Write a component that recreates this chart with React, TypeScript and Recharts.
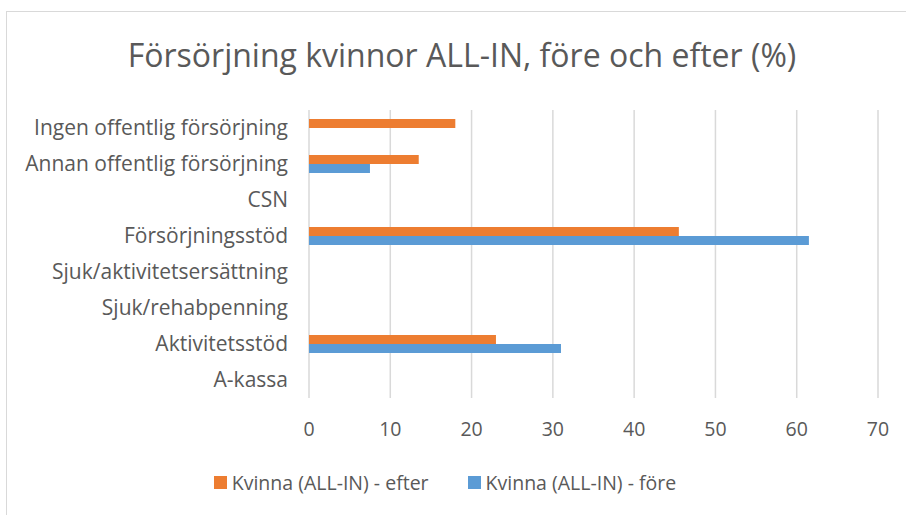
import React from 'react';
import { BarChart, Bar, XAxis, YAxis, CartesianGrid, Legend } from 'recharts';

const categories = [
  'Ingen offentlig försörjning',
  'Annan offentlig försörjning',
  'CSN',
  'Försörjningsstöd',
  'Sjuk/aktivitetsersättning',
  'Sjuk/rehabpenning',
  'Aktivitetsstöd',
  'A-kassa',
];
const efterValues = [18, 13.5, 0, 45.5, 0, 0, 23, 0];
const foreValues = [0, 7.5, 0, 61.5, 0, 0, 31, 0];
const xTicks = [0, 10, 20, 30, 40, 50, 60, 70];
const seriesNames = ['Kvinna (ALL-IN) - efter', 'Kvinna (ALL-IN) - före'];
const seriesColors = ['#ED7D31', '#5B9BD5'];
const title = 'Försörjning kvinnor ALL-IN, före och efter (%)';

const data = categories.map((c, i) => ({ name: c, efter: efterValues[i], fore: foreValues[i] }));

const FONT = '"Open Sans", "Noto Sans", sans-serif';
const TEXT = '#595959';

const LegendContent = () => (
  <div style={{ display: 'flex', justifyContent: 'center', alignItems: 'center', fontFamily: FONT, fontSize: 19.5, color: TEXT, paddingRight: 16 }}>
    {seriesNames.map((n, i) => (
      <div key={n} style={{ display: 'flex', alignItems: 'center', marginRight: i === 0 ? 39 : 0 }}>
        <div style={{ width: 13, height: 13, background: seriesColors[i], marginRight: 5 }} />
        <span>{n}</span>
      </div>
    ))}
  </div>
);

export default function App() {
  return (
    <div style={{ position: 'absolute', left: 0, top: 0, width: 906, height: 515, background: '#fff', overflow: 'hidden' }}>
      <div style={{ position: 'absolute', left: 6, top: 11, width: 1000, height: 1000, border: '1px solid #D9D9D9' }} />
      <div style={{ position: 'absolute', left: 0, top: 35, width: 924, textAlign: 'center', fontFamily: FONT, fontSize: 32, color: TEXT, lineHeight: '40px', whiteSpace: 'nowrap' }}>
        {title}
      </div>
      <div style={{ position: 'absolute', left: 0, top: 0 }}>
        <BarChart
          width={906}
          height={515}
          data={data}
          layout="vertical"
          margin={{ top: 110, right: 28, left: 0, bottom: 87 }}
          barSize={9}
          barGap={0}
        >
          <CartesianGrid horizontal={false} stroke="#D9D9D9" strokeWidth={1.5} />
          <XAxis
            type="number"
            domain={[0, 70]}
            ticks={xTicks}
            axisLine={false}
            tickLine={false}
            height={30}
            tickMargin={18}
            tick={{ fill: TEXT, fontSize: 19.5, fontFamily: FONT }}
            interval={0}
          />
          <YAxis
            type="category"
            dataKey="name"
            width={309}
            axisLine={false}
            tickLine={false}
            tickMargin={15}
            interval={0}
            tick={{ fill: TEXT, fontSize: 21, fontFamily: FONT }}
          />
          <Bar dataKey="efter" name={seriesNames[0]} fill={seriesColors[0]} isAnimationActive={false} />
          <Bar dataKey="fore" name={seriesNames[1]} fill={seriesColors[1]} isAnimationActive={false} />
          <Legend
            layout="horizontal"
            verticalAlign="middle"
            align="center"
            content={<LegendContent />}
            wrapperStyle={{ top: 469, left: 0, width: 906 }}
          />
        </BarChart>
      </div>
    </div>
  );
}
